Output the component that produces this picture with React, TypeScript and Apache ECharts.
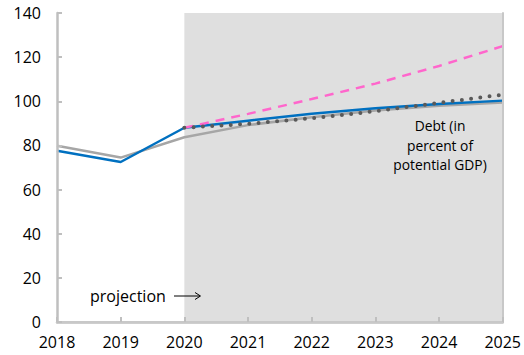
import React, { useEffect, useRef } from "react";
import * as echarts from "echarts";

const years = [2018, 2019, 2020, 2021, 2022, 2023, 2024, 2025];
const blueDebt = [77.6, 72.5, 88, 91.2, 94.3, 96.8, 98.8, 100.3];
const grayDebt = [79.9, 74.5, 83.7, 89.2, 92.8, 95.8, 98.0, 99.5];
const pinkYears = [2020, 2021, 2022, 2023, 2024, 2025];
const pinkDebt = [88, 94.3, 101, 108, 116, 125];
const dotYears = [2020, 2021, 2022, 2023, 2024, 2025];
const dotDebt = [88, 89.8, 92.3, 95.5, 99.3, 103];
const projectionRange = [2020, 2025];
const yTicks = [0, 140, 20];

const FONT = "'Open Sans', 'Noto Sans', sans-serif";

function pairs(xs: number[], ys: number[]) {
  return xs.map((x, i) => [x, ys[i]]);
}

export default function App() {
  const ref = useRef<HTMLDivElement>(null);
  useEffect(() => {
    document.body.style.margin = "0";
    if (!ref.current) return;
    const chart = echarts.init(ref.current, null, { renderer: "svg" });
    const axisGray = "#bfbfbf";
    chart.setOption({
      animation: false,
      grid: { left: 57, right: 20, top: 13, bottom: 33, containLabel: false },
      xAxis: [
        {
          type: "value",
          min: years[0],
          max: years[years.length - 1],
          interval: 1,
          z: 5,
          splitLine: { show: false },
          axisLine: { show: true, lineStyle: { color: axisGray, width: 2.5 } },
          axisTick: { show: true, inside: true, length: 5, lineStyle: { color: axisGray, width: 2 } },
          axisLabel: { color: "#000", fontSize: 16, fontFamily: FONT, margin: 12, formatter: (v: number) => String(v) },
        },
        {
          type: "value",
          position: "top",
          min: years[0],
          max: years[years.length - 1],
          z: 5,
          splitLine: { show: false },
          axisLine: { show: true, lineStyle: { color: "#c8c8c8", width: 2 } },
          axisTick: { show: false },
          axisLabel: { show: false },
        },
      ],
      yAxis: [
        {
          type: "value",
          min: yTicks[0],
          max: yTicks[1],
          interval: yTicks[2],
          z: 5,
          splitLine: { show: false },
          axisLine: { show: true, lineStyle: { color: axisGray, width: 2.5 } },
          axisTick: { show: true, inside: true, length: 5, lineStyle: { color: axisGray, width: 2 } },
          axisLabel: { color: "#000", fontSize: 16, fontFamily: FONT, margin: 16 },
        },
        {
          type: "value",
          position: "right",
          min: yTicks[0],
          max: yTicks[1],
          z: 5,
          splitLine: { show: false },
          axisLine: { show: true, lineStyle: { color: "#c8c8c8", width: 2 } },
          axisTick: { show: false },
          axisLabel: { show: false },
        },
      ],
      series: [
        {
          type: "line",
          z: 1,
          data: [],
          silent: true,
          markArea: {
            silent: true,
            itemStyle: { color: "#dfdfdf" },
            data: [[{ xAxis: projectionRange[0] }, { xAxis: projectionRange[1] }]],
          },
        },
        {
          type: "line",
          z: 2,
          data: pairs(years, grayDebt),
          symbol: "none",
          lineStyle: { color: "#a6a6a6", width: 2.5 },
        },
        {
          type: "line",
          z: 3,
          data: pairs(years, blueDebt),
          symbol: "none",
          lineStyle: { color: "#0070c0", width: 2.5 },
        },
        {
          type: "line",
          z: 3,
          data: pairs(pinkYears, pinkDebt),
          symbol: "none",
          lineStyle: { color: "#ff66cc", width: 2.5, type: [9, 7] },
        },
        {
          type: "line",
          z: 4,
          data: pairs(dotYears, dotDebt),
          symbol: "none",
          lineStyle: { color: "#595959", width: 4, type: [0, 9.3], cap: "round" },
        },
      ],
      graphic: [
        {
          type: "text",
          x: 440,
          y: 116,
          style: {
            text: "Debt (in\npercent of\npotential GDP)",
            align: "center",
            verticalAlign: "top",
            fontSize: 13.8,
            lineHeight: 19.5,
            fontFamily: FONT,
            fill: "#000",
          },
          z: 10,
        },
        {
          type: "text",
          x: 90,
          y: 296,
          style: { text: "projection", fontSize: 16, fontFamily: FONT, fill: "#000", verticalAlign: "middle" },
          z: 10,
        },
        {
          type: "line",
          shape: { x1: 174, y1: 296, x2: 200, y2: 296 },
          style: { stroke: "#000", lineWidth: 1 },
          z: 10,
        },
        {
          type: "polyline",
          shape: { points: [[195, 292.5], [200.5, 296], [195, 299.5]] },
          style: { stroke: "#000", lineWidth: 1, fill: null },
          z: 10,
        },
      ],
    });
    return () => chart.dispose();
  }, []);
  return <div ref={ref} style={{ width: 524, height: 355 }} />;
}
